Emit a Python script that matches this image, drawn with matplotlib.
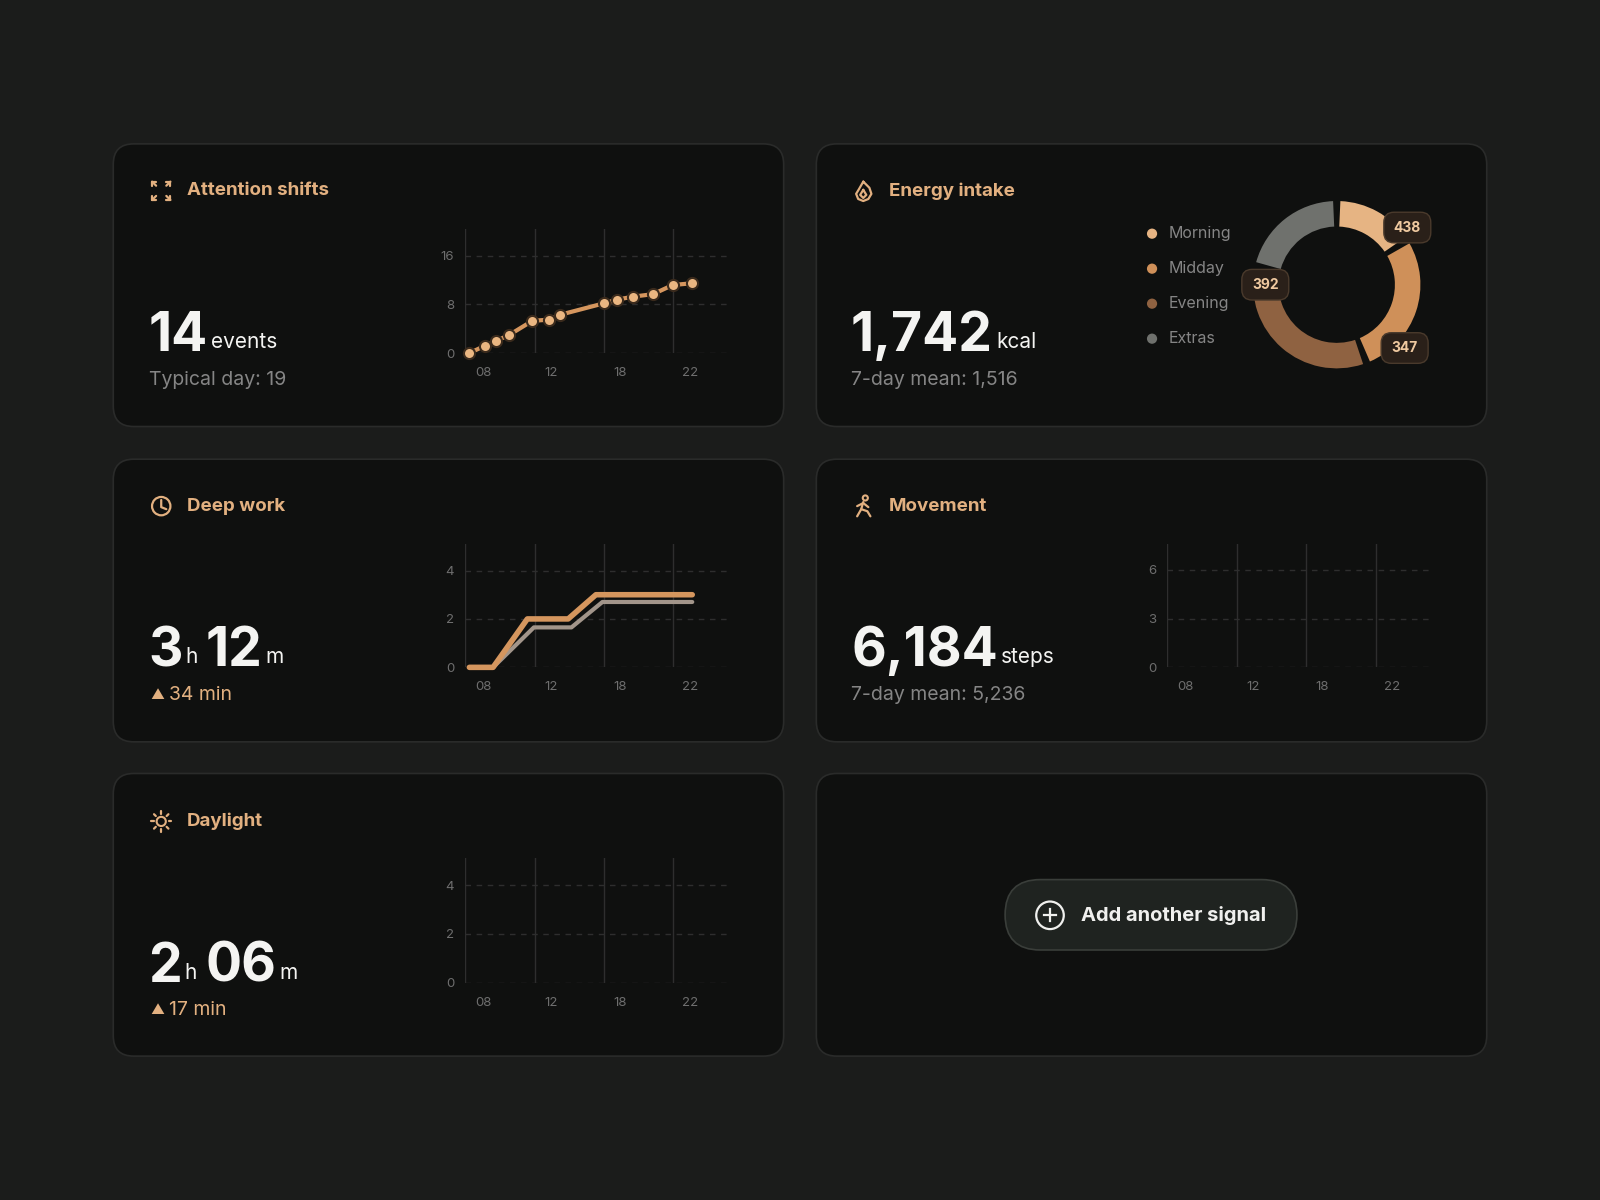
import numpy as np
import matplotlib.pyplot as plt
from matplotlib.patches import FancyBboxPatch, Circle, Wedge

# reference canvas in pixels
W, H = 1568, 1176

BG = '#1b1c1b'
CARD = '#0f100f'
EDGE = '#2a2b2a'
ACCENT = '#e2b080'
ORANGE = '#d5965e'
MUTED = '#858585'
TICK = '#6e6e6e'
GRID = '#2e2e2e'

# ---- data ----
tick_labels = ['08', '12', '18', '22']
tick_pos = [1.1, 5.25, 9.5, 13.75]
vgrid_pos = [4.25, 8.5, 12.75]

attn_x = [0.25, 1.2, 1.9, 2.7, 4.1, 5.1, 5.8, 8.5, 9.3, 10.3, 11.5, 12.7, 13.9]
attn_y = [0, 1.2, 2, 3, 5.3, 5.5, 6.3, 8.2, 8.8, 9.3, 9.7, 11.2, 11.5]

deep_x = [0.25, 1.7, 3.8, 6.3, 8.0, 13.9]
deep_y = [0, 0, 2, 2, 3, 3]
deep_prev_x = [0.25, 1.7, 4.2, 6.5, 8.4, 13.9]
deep_prev_y = [0, 0, 1.65, 1.65, 2.7, 2.7]

energy_labels = ['Morning', 'Midday', 'Evening', 'Extras']
energy_spans = [280, 490, 600, 372]
energy_colors = ['#e6b483', '#cf9059', '#8f6241', '#6f716d']
energy_badges = ['438', '347', '392']
badge_angles = [51, 133, 270]
badge_radius = [89, 91, 70]

plt.rcParams['font.family'] = ['Inter', 'DejaVu Sans']

fig = plt.figure(figsize=(16, 12), dpi=100)
fig.patch.set_facecolor(BG)
bg = fig.add_axes([0, 0, 1, 1])
bg.set_xlim(0, W)
bg.set_ylim(H, 0)
bg.axis('off')
renderer = fig.canvas.get_renderer()


def card(x0, y0, x1, y1):
    bg.add_patch(FancyBboxPatch((x0 + 20, y0 + 20), x1 - x0 - 40, y1 - y0 - 40,
                                boxstyle='round,pad=20', fc=CARD, ec=EDGE, lw=1.2))


for (x0, x1) in [(111, 768), (800, 1457)]:
    for (y0, y1) in [(141, 418), (450, 727), (758, 1035)]:
        card(x0, y0, x1, y1)


def title(x, y, s):
    bg.text(x, y, s, color=ACCENT, fontsize=13.5, fontweight='bold', va='center')


title(183, 187, 'Attention shifts')
title(871, 187, 'Energy intake')
title(183, 496, 'Deep work')
title(871, 496, 'Movement')
title(183, 805, 'Daylight')

# icons (simple sketches)
ic = dict(color=ACCENT, lw=1.6, solid_capstyle='round')
for sx, sy in [(-1, -1), (1, -1), (-1, 1), (1, 1)]:
    cx, cy = 158 + sx * 9, 187 + sy * 9
    bg.plot([cx, cx - sx * 4], [cy, cy - sy * 4], **ic)
    bg.plot([cx, cx - sx * 4], [cy, cy], **ic)
    bg.plot([cx, cx], [cy, cy - sy * 4], **ic)
bg.plot([846, 852, 854, 851, 846, 841, 839, 842, 846], [178, 184, 190, 195, 197, 195, 190, 185, 178], **ic)
bg.plot([846, 849, 846, 843, 846], [186, 191, 194, 191, 186], **ic)
bg.add_patch(Circle((158, 496), 9, fill=False, ec=ACCENT, lw=1.6))
bg.plot([158, 158, 163], [490, 497, 499], **ic)
bg.add_patch(Circle((848, 488), 2.5, fill=False, ec=ACCENT, lw=1.5))
bg.plot([846, 844, 840], [492, 499, 506], **ic)
bg.plot([844, 850, 853], [499, 501, 506], **ic)
bg.plot([840, 846, 851], [496, 493, 497], **ic)
bg.add_patch(Circle((158, 805), 4.5, fill=False, ec=ACCENT, lw=1.5))
for a in np.radians(np.arange(0, 360, 45)):
    bg.plot([158 + 7.5 * np.cos(a), 158 + 10 * np.cos(a)],
            [805 + 7.5 * np.sin(a), 805 + 10 * np.sin(a)], **ic)

# big numbers, each unit placed right after the rendered number
big = dict(color='#f4f4f2', fontsize=38.5, fontweight='bold', va='baseline')
sub = dict(color=MUTED, fontsize=14, va='baseline')
px_per_unit = fig.bbox.width / W


def value(x, y, parts):
    for num, u in parts:
        t = bg.text(x, y, num, **big)
        x = x + t.get_window_extent(renderer).width / px_per_unit + 3
        t2 = bg.text(x, y - 3, u, color='#f4f4f2', fontsize=15, va='baseline')
        x = x + t2.get_window_extent(renderer).width / px_per_unit + 8


value(146, 344, [('14', 'events')])
bg.text(146, 377, 'Typical day: 19', **sub)
value(834, 344, [('1,742', 'kcal')])
bg.text(834, 377, '7-day mean: 1,516', **sub)
value(145, 653, [('3', 'h'), ('12', 'm')])
bg.text(147, 685, '▲', color=ACCENT, fontsize=10, va='baseline')
bg.text(166, 686, '34 min', color=ACCENT, fontsize=14, va='baseline')
value(834, 653, [('6,184', 'steps')])
bg.text(834, 686, '7-day mean: 5,236', **sub)
value(145, 962, [('2', 'h'), ('06', 'm')])
bg.text(147, 994, '▲', color=ACCENT, fontsize=10, va='baseline')
bg.text(166, 995, '17 min', color=ACCENT, fontsize=14, va='baseline')

# add button
bg.add_patch(FancyBboxPatch((985, 862), 286, 69, boxstyle='round,pad=0,rounding_size=34.5',
                            fc='#1f2320', ec='#3a3e3a', lw=1.2))
bg.add_patch(Circle((1029, 897), 13.5, fill=False, ec='#f0f0ee', lw=1.6))
bg.plot([1023, 1035], [897, 897], color='#f0f0ee', lw=1.6)
bg.plot([1029, 1029], [891, 903], color='#f0f0ee', lw=1.6)
bg.text(1059, 897, 'Add another signal', color='#f0f0ee', fontsize=14.5, fontweight='bold', va='center')


def mini_axes(x0, y_zero, y_top, ymax, yticks):
    x1 = x0 + 256
    ax = fig.add_axes([x0 / W, 1 - y_zero / H, (x1 - x0) / W, (y_zero - y_top) / H])
    ax.set_facecolor('none')
    ax.set_xlim(0, 16)
    ax.set_ylim(0, ymax)
    for s in ax.spines.values():
        s.set_visible(False)
    ax.axvline(0, color=GRID, lw=1)
    for v in vgrid_pos:
        ax.axvline(v, color=GRID, lw=1)
    for t in yticks:
        ax.axhline(t, color=GRID, lw=1, ls=(0, (4, 4)))
    ax.set_yticks(yticks)
    ax.set_xticks(tick_pos)
    ax.set_xticklabels(tick_labels)
    ax.tick_params(length=0, colors=TICK, labelsize=9.5, pad=8)
    ax.tick_params(axis='x', pad=10)
    return ax


ax1 = mini_axes(456, 346, 224, 20.5, [0, 8, 16])
ax1.plot(attn_x, attn_y, color=ORANGE, lw=3, marker='o', ms=8, mfc='#eab681',
         mec='#3a2a1c', mew=1.5, clip_on=False, zorder=3)

ax2 = mini_axes(456, 654, 533, 5.1, [0, 2, 4])
ax2.plot(deep_prev_x, deep_prev_y, color='#a2958a', lw=3, solid_capstyle='round', clip_on=False)
ax2.plot(deep_x, deep_y, color=ORANGE, lw=4, solid_capstyle='round', clip_on=False)

mini_axes(1144, 654, 533, 7.6, [0, 3, 6])
mini_axes(456, 963, 841, 5.1, [0, 2, 4])

# donut (y axis is inverted, so increasing angle runs clockwise on screen)
cx, cy, R, w = 1310, 279, 82, 25
ang = -90.0
total = sum(energy_spans)
for v, c in zip(energy_spans, energy_colors):
    span = v / total * 360
    bg.add_patch(Wedge((cx, cy), R, ang + 2.5, ang + span - 2.5, width=w, fc=c, ec='none'))
    ang += span
for txt, a, r in zip(energy_badges, badge_angles, badge_radius):
    t = np.radians(a)
    bx, by = cx + r * np.sin(t), cy - r * np.cos(t)
    bg.add_patch(FancyBboxPatch((bx - 23, by - 15), 46, 30, boxstyle='round,pad=0,rounding_size=10',
                                fc='#2a2019', ec='#4a3a2c', lw=1))
    bg.text(bx, by, txt, color='#efc9a0', fontsize=10, fontweight='bold', ha='center', va='center')

for i, (lab, c) in enumerate(zip(energy_labels, energy_colors)):
    y = 229 + i * 34.3
    bg.add_patch(Circle((1129, y), 5, fc=c, ec='none'))
    bg.text(1145, y, lab, color=MUTED, fontsize=11.5, va='center')

fig.savefig('out.png', dpi=100, facecolor=BG)
